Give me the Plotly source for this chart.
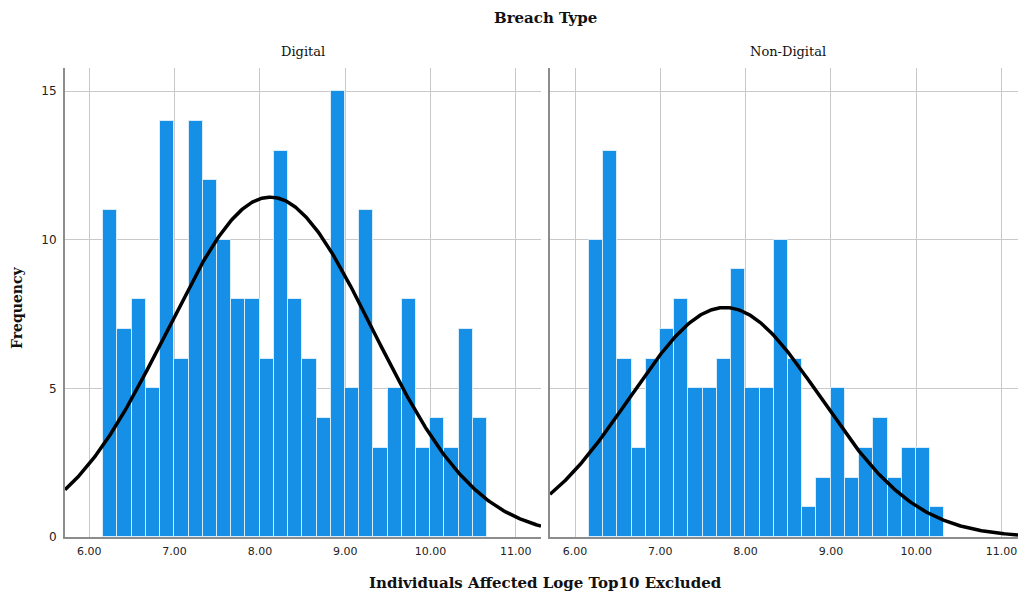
import numpy as np
import plotly.graph_objects as go

# Histogram counts per bin, by breach type
digital_counts = [11, 7, 8, 5, 14, 6, 14, 12, 10, 8, 8, 6, 13, 8, 6, 4, 15, 5, 11, 3, 5, 8, 3, 4, 3, 7, 4]
non_digital_counts = [10, 13, 6, 3, 6, 7, 8, 5, 5, 6, 9, 5, 5, 10, 6, 1, 2, 5, 2, 3, 4, 2, 3, 3, 1]

# Binning of the log-transformed variable
bin_start = 6.163
bin_width = 0.1667

# Normal-curve parameters (mean, std. deviation) per group
digital_mean, digital_sd = 8.12, 1.21
non_digital_mean, non_digital_sd = 7.76, 1.12

x_ticks = [6, 7, 8, 9, 10, 11]
x_tick_labels = ["6.00", "7.00", "8.00", "9.00", "10.00", "11.00"]
y_ticks = [0, 5, 10, 15]

W, H = 1018, 592
SERIF = "DejaVu Serif"
SANS = "DejaVu Sans"
BAR_COLOR = "#1590e6"
GRID = "#c9c9c9"
AXIS = "#8c8c8c"

# panel geometry in pixels
left_px = (65, 541)
right_px = (550, 1018)
top_px, bottom_px = 68, 537
px_per_unit = 85.3
px_per_count = 29.73
x0_left = 6 - (89.3 - left_px[0]) / px_per_unit
x0_right = 6 - (575 - right_px[0]) / px_per_unit


def paper_x(p):
    return p / W


def paper_y(p):
    return (H - p) / H


def centers(counts):
    return [bin_start + (i + 0.5) * bin_width for i in range(len(counts))]


def normal_curve(mean, sd, n, lo, hi):
    xs = np.linspace(lo, hi, 400)
    ys = n * bin_width / (sd * np.sqrt(2 * np.pi)) * np.exp(-((xs - mean) ** 2) / (2 * sd ** 2))
    return xs, ys


fig = go.Figure()

x_range_left = [x0_left, x0_left + (left_px[1] - left_px[0]) / px_per_unit]
x_range_right = [x0_right, x0_right + (right_px[1] - right_px[0]) / px_per_unit]

for counts, mean, sd, xa, ya, xr in [
    (digital_counts, digital_mean, digital_sd, "x", "y", x_range_left),
    (non_digital_counts, non_digital_mean, non_digital_sd, "x2", "y2", x_range_right),
]:
    fig.add_trace(go.Bar(
        x=centers(counts), y=counts, width=bin_width,
        marker=dict(color=BAR_COLOR, line=dict(color="rgba(225,240,252,0.9)", width=1)),
        xaxis=xa, yaxis=ya, showlegend=False, hoverinfo="x+y",
    ))
    cx, cy = normal_curve(mean, sd, sum(counts), xr[0], xr[1])
    fig.add_trace(go.Scatter(
        x=cx, y=cy, mode="lines", line=dict(color="black", width=3.5),
        xaxis=xa, yaxis=ya, showlegend=False, hoverinfo="skip", cliponaxis=True,
    ))

y_range = [0, (bottom_px - top_px) / px_per_count]
y_domain = [paper_y(bottom_px), paper_y(top_px)]

xaxis_common = dict(
    tickvals=x_ticks, ticktext=x_tick_labels, showgrid=True, gridcolor=GRID, gridwidth=1,
    showline=True, linecolor=AXIS, linewidth=2, zeroline=False, ticks="", automargin=False,
    tickfont=dict(family=SANS, size=11, color="#222"), fixedrange=True, ticklabelstandoff=3,
)
yaxis_common = dict(
    range=y_range, domain=y_domain, tickvals=y_ticks, showgrid=True, gridcolor=GRID, gridwidth=1,
    showline=True, linecolor=AXIS, linewidth=2, zeroline=False, ticks="", automargin=False,
    tickfont=dict(family=SANS, size=12, color="#222"), fixedrange=True, ticklabelstandoff=4,
)

fig.update_layout(
    template="none",
    width=W, height=H, autosize=False,
    margin=dict(l=0, r=0, t=0, b=0, pad=0),
    paper_bgcolor="white", plot_bgcolor="white",
    bargap=0,
    xaxis=dict(xaxis_common, domain=[paper_x(left_px[0]), paper_x(left_px[1])], range=x_range_left, anchor="y"),
    xaxis2=dict(xaxis_common, domain=[paper_x(right_px[0]), paper_x(right_px[1])], range=x_range_right, anchor="y2"),
    yaxis=dict(yaxis_common, anchor="x"),
    yaxis2=dict(yaxis_common, anchor="x2", showticklabels=False),
    annotations=[
        dict(text="<b>Breach Type</b>", x=paper_x(545), y=paper_y(18), xref="paper", yref="paper",
             showarrow=False, font=dict(family=SERIF, size=15, color="#111"), xanchor="center", yanchor="middle"),
        dict(text="Digital", x=paper_x(303), y=paper_y(52), xref="paper", yref="paper",
             showarrow=False, font=dict(family=SERIF, size=13, color="#111"), xanchor="center", yanchor="middle"),
        dict(text="Non-Digital", x=paper_x(788), y=paper_y(52), xref="paper", yref="paper",
             showarrow=False, font=dict(family=SERIF, size=13, color="#111"), xanchor="center", yanchor="middle"),
        dict(text="<b>Frequency</b>", x=paper_x(17), y=paper_y(308), xref="paper", yref="paper", textangle=-90,
             showarrow=False, font=dict(family=SERIF, size=14, color="#111"), xanchor="center", yanchor="middle"),
        dict(text="<b>Individuals Affected Loge Top10 Excluded</b>", x=paper_x(545), y=paper_y(583),
             xref="paper", yref="paper", showarrow=False,
             font=dict(family=SERIF, size=15, color="#111"), xanchor="center", yanchor="middle"),
    ],
)

fig.write_html("out.html")
